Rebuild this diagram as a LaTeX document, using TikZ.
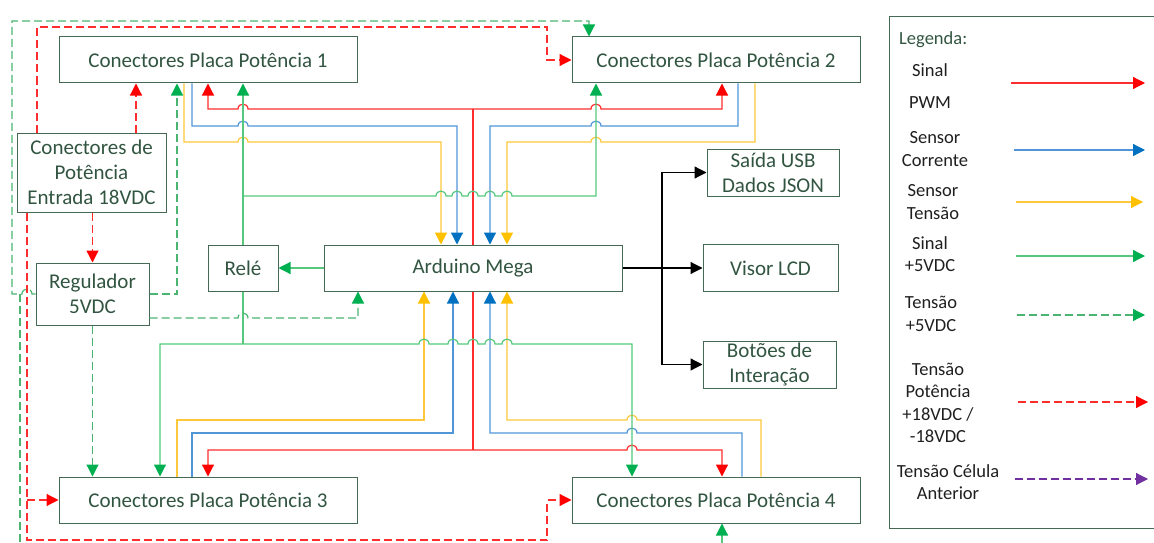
\documentclass[tikz,border=0pt]{standalone}
\usepackage{fontspec}
\setmainfont{Carlito}
\usetikzlibrary{arrows.meta}
\definecolor{boxc}{RGB}{70,105,85}
\definecolor{txtc}{RGB}{50,85,65}
\definecolor{pwmc}{RGB}{255,45,45}
\definecolor{pwma}{RGB}{255,0,0}
\definecolor{curc}{RGB}{80,150,215}
\definecolor{cura}{RGB}{0,112,192}
\definecolor{tenc}{RGB}{255,200,60}
\definecolor{tena}{RGB}{255,192,0}
\definecolor{sigc}{RGB}{85,200,125}
\definecolor{siga}{RGB}{0,176,80}
\definecolor{purc}{RGB}{112,48,160}
\newcommand\hopR[2]{-- ({#1-5},#2) .. controls ({#1-5},{#2-6.5}) and ({#1+5},{#2-6.5}) .. ({#1+5},#2)}
\newcommand\hopL[2]{-- ({#1+5},#2) .. controls ({#1+5},{#2-6.5}) and ({#1-5},{#2-6.5}) .. ({#1-5},#2)}
\tikzset{
  bx/.style={draw=boxc, fill=white, text=txtc, font=\fontsize{21}{25}\selectfont, align=center, inner sep=0pt, line width=1pt},
  lt/.style={text=black!88, font=\fontsize{18.5}{22.5}\selectfont, align=center, inner sep=0pt},
  pwm/.style={draw=pwmc, line width=1.2pt, >={Triangle[length=12pt,width=12pt,color=pwma]}},
  cur/.style={draw=curc, line width=1.2pt, >={Triangle[length=12pt,width=12pt,color=cura]}},
  ten/.style={draw=tenc, line width=1.2pt, >={Triangle[length=12pt,width=12pt,color=tena]}},
  sig/.style={draw=sigc, line width=1.2pt, >={Triangle[length=12pt,width=12pt,color=siga]}},
  vcc/.style={draw=sigc!90!black, line width=1.2pt, dash pattern=on 8pt off 4pt, >={Triangle[length=12pt,width=12pt,color=siga]}},
  pot/.style={draw=pwmc, line width=1.2pt, dash pattern=on 8pt off 4pt, >={Triangle[length=12pt,width=12pt,color=pwma]}},
  prp/.style={draw=purc, line width=1.2pt, dash pattern=on 8pt off 4pt, >={Triangle[length=12pt,width=12pt,color=purc]}},
  blk/.style={draw=black, line width=1.2pt, >={Triangle[length=12pt,width=12pt,color=black]}}
}
\begin{document}
\begin{tikzpicture}[x=1pt,y=-1pt]
\useasboundingbox (0,0) rectangle (1154,543);
% nodes
\node[bx, minimum width=298pt, minimum height=46pt] (c1) at (208,60) {Conectores Placa Potência 1};
\node[bx, minimum width=288pt, minimum height=46pt] (c2) at (716,60) {Conectores Placa Potência 2};
\node[bx, minimum width=298pt, minimum height=46pt] (c3) at (208,500) {Conectores Placa Potência 3};
\node[bx, minimum width=288pt, minimum height=46pt] (c4) at (716,500) {Conectores Placa Potência 4};
\node[bx, minimum width=149pt, minimum height=79pt] (cp) at (91.5,172.5) {Conectores de\\Potência\\Entrada 18VDC};
\node[bx, minimum width=113pt, minimum height=62pt] (reg) at (92.5,294) {Regulador\\5VDC};
\node[bx, minimum width=70pt, minimum height=46pt] (rele) at (243,268) {Relé};
\node[bx, minimum width=298pt, minimum height=46pt] (ard) at (473,268) {Arduino Mega};
\node[bx, minimum width=132pt, minimum height=47pt] (usb) at (773,172.5) {Saída USB\\Dados JSON};
\node[bx, minimum width=135pt, minimum height=47pt] (lcd) at (770.5,268) {Visor LCD};
\node[bx, minimum width=133pt, minimum height=47pt] (bot) at (769.5,364.5) {Botões de\\Interação};
\coordinate (gin) at (722,543);
\coordinate (gout) at (20,543);
% red PWM
\draw[pwm,<->] (208,0 |- c1.south) -- (208,109) \hopR{243}{109} -- (473,109) \hopR{596}{109} -- (722,109) -- (722,0 |- c2.south);
\draw[pwm] (473,109) -- (ard.north);
\draw[pwm] (ard.south) -- (473,450);
\draw[pwm,<->] (208,0 |- c3.north) -- (208,450) -- (473,450) \hopR{632}{450} -- (722,450) -- (722,0 |- c4.north);
% blue
\draw[cur,->] (192,0 |- c1.south) -- (192,126) \hopR{243}{126} -- (457,126) -- (457,0 |- ard.north);
\draw[cur,->] (738,0 |- c2.south) -- (738,126) \hopL{596}{126} -- (490,126) -- (490,0 |- ard.north);
\draw[cur,->] (192,0 |- c3.north) -- (192,433) -- (453,433) -- (453,0 |- ard.south);
\draw[cur,->] (742,0 |- c4.north) -- (742,433) \hopL{632}{433} -- (490,433) -- (490,0 |- ard.south);
% yellow
\draw[ten,->] (184,0 |- c1.south) -- (184,142) \hopR{243}{142} -- (441,142) -- (441,0 |- ard.north);
\draw[ten,->] (755,0 |- c2.south) -- (755,142) \hopL{596}{142} -- (507,142) -- (507,0 |- ard.north);
\draw[ten,->] (177,0 |- c3.north) -- (177,420) -- (424,420) -- (424,0 |- ard.south);
\draw[ten,->] (761,0 |- c4.north) -- (761,420) \hopL{632}{420} -- (507,420) -- (507,0 |- ard.south);
% green signal
\draw[sig,->] (rele.north) -- (243,0 |- c1.south);
\draw[sig,->] (243,196) \hopR{441}{196} \hopR{457}{196} \hopR{473}{196} \hopR{490}{196} \hopR{507}{196} -- (596,196) -- (596,0 |- c2.south);
\draw[sig,->] (ard.west) -- (rele.east);
\draw[sig] (rele.south) -- (243,344);
\draw[sig,<->] (160,0 |- c3.north) -- (160,344) \hopR{424}{344} \hopR{453}{344} \hopR{473}{344} \hopR{490}{344} \hopR{507}{344} -- (632,344) -- (632,0 |- c4.north);
\draw[sig,->] (gin) -- (722,0 |- c4.south);
% green dashed
\draw[vcc,->] (reg.west) \hopL{27}{294} -- (12,294) -- (12,21) -- (589,21) -- (589,0 |- c2.north);
\draw[vcc] (20,294) -- (gout);
\draw[vcc,->] (reg.east) -- (177,294) -- (177,0 |- c1.south);
\draw[vcc,->] (reg.east |- 0,318) \hopR{243}{318} -- (358,318) -- (358,0 |- ard.south);
\draw[vcc,->] (reg.south) -- (reg.south |- c3.north);
% red dashed
\draw[pot,->] (reg.north |- cp.south) -- (reg.north);
\draw[pot,->] (136,0 |- cp.north) -- (136,0 |- c1.south);
\draw[pot,->] (37,0 |- cp.north) -- (37,27) -- (547,27) -- (547,60) -- (c2.west);
\draw[pot,->] (27,0 |- cp.south) -- (27,540) -- (547,540) -- (547,500) -- (c4.west);
\draw[pot,->] (27,500) -- (c3.west);
% black
\draw[blk,->] (ard.east) -- (lcd.west);
\draw[blk,->] (662,268) -- (662,0 |- usb.west) -- (usb.west);
\draw[blk,->] (662,268) -- (662,0 |- bot.west) -- (bot.west);
% legend
\node[draw=boxc, line width=1pt, minimum width=280pt, minimum height=512pt, inner sep=0pt, anchor=north west] (leg) at (889,16) {};
\node[lt, anchor=west, text=txtc] (lgt) at (899,40) {Legenda:};
\node[lt] (l1a) at (930,70) {Sinal};
\node[lt] (l1b) at (930,103) {PWM};
\node[lt] (l2) at (935,149) {Sensor\\Corrente};
\node[lt] (l3) at (933,202) {Sensor\\Tensão};
\node[lt] (l4) at (930,254) {Sinal\\+5VDC};
\node[lt] (l5) at (931,314) {Tensão\\+5VDC};
\node[lt] (l6) at (938,403) {Tensão\\Potência\\+18VDC /\\-18VDC};
\node[lt] (l7) at (948,482) {Tensão Célula\\Anterior};
\draw[pwm,->] (1011,83) -- (1145,83);
\draw[cur,->] (1014,150) -- (1145,150);
\draw[ten,->] (1016,202) -- (1143,202);
\draw[sig,->] (1016,256) -- (1145,256);
\draw[vcc,->] (1017,315) -- (1145,315);
\draw[pot,->] (1018,402) -- (1148,402);
\draw[prp,->] (1015,479) -- (1148,479);
\end{tikzpicture}
\end{document}
